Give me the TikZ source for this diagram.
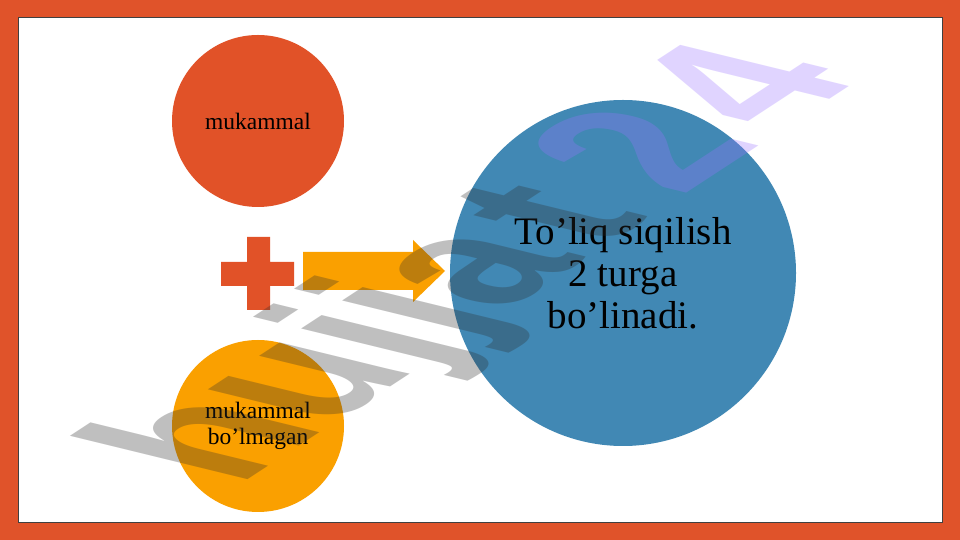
\documentclass[tikz,border=0pt]{standalone}
\usepackage{fontspec}
\setmainfont{Liberation Serif}
\newfontfamily\wmfont{Liberation Sans}
\begin{document}
\begin{tikzpicture}[x=1pt,y=1pt]
\definecolor{framecol}{RGB}{224,83,42}
\definecolor{circred}{RGB}{225,82,40}
\definecolor{circorange}{RGB}{250,160,0}
\definecolor{circblue}{RGB}{65,136,180}
\definecolor{wmgray}{RGB}{45,45,45}
\definecolor{wmpurple}{RGB}{155,115,255}
\tikzset{
  bubble/.style={circle, inner sep=0pt, align=center, text=black},
  smalltext/.style={font=\fontsize{23.5}{26}\selectfont},
  bigtext/.style={font=\fontsize{39}{42}\selectfont}
}
\useasboundingbox (0,0) rectangle (960,540);
\fill[framecol] (0,0) rectangle (960,540);
\draw[fill=white, draw=black!75, line width=0.8pt] (18,18) rectangle (942,523);
% circles
\node[bubble, fill=circred, minimum size=172, smalltext] (perfect) at (258,419) {mukammal};
\node[bubble, fill=circorange, minimum size=172, smalltext] (imperfect) at (258,114) {mukammal\\bo’lmagan};
\node[bubble, fill=circblue, minimum size=346, bigtext] (full) at (623,267) {To’liq siqilish\\2 turga\\bo’linadi.};
% plus sign
\fill[circred] (247,303) -- (270,303) -- (270,278) -- (294,278) -- (294,254) -- (270,254) -- (270,230) -- (247,230) -- (247,254) -- (221,254) -- (221,278) -- (247,278) -- cycle;
% block arrow
\fill[circorange] (303,250) -- (413,250) -- (413,238) -- (445,269) -- (413,300) -- (413,288) -- (303,288) -- cycle;
% watermark
\begin{scope}[cm={0.526,0.344,-0.86,0.21,(237,53)}]
\node[anchor=base west, inner sep=0pt, outer sep=0pt, transform shape, text opacity=0.3,
      font=\wmfont\bfseries\fontsize{285}{285}\selectfont] (wm) at (0,0)
  {\color{wmgray}hujja\kern0.1em t\kern0.2em\color{wmpurple}2\kern0.1em 4};
\end{scope}
\end{tikzpicture}
\end{document}
